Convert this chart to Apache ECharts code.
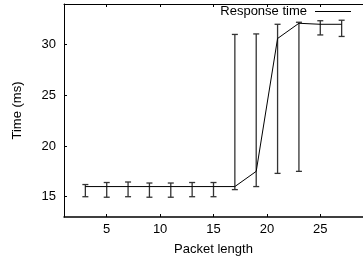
<!DOCTYPE html>
<html>
<head>
<meta charset="utf-8">
<script src="https://cdn.jsdelivr.net/npm/echarts@6/dist/echarts.min.js"></script>
<style>html,body{margin:0;padding:0;background:#fff}#c{width:363px;height:263px}</style>
</head>
<body>
<div id="c"></div>
<script>
var packetLength = [3, 5, 7, 9, 11, 13, 15, 17, 19, 21, 23, 25, 27];
var meanTime = [16.0, 16.0, 16.0, 16.0, 16.0, 16.0, 16.0, 16.0, 17.5, 30.6, 32.1, 32.0, 32.0];
var lowTime = [15.0, 14.95, 15.0, 14.95, 14.95, 15.0, 15.0, 15.7, 16.0, 17.3, 17.5, 30.95, 30.8];
var highTime = [16.2, 16.4, 16.45, 16.35, 16.35, 16.4, 16.4, 31.0, 31.05, 32.0, 32.2, 32.35, 32.4];
var xTicks = [5, 10, 15, 20, 25];
var yTicks = [15, 20, 25, 30];
var seriesName = 'Response time';

var lineData = packetLength.map(function (x, i) { return [x, meanTime[i]]; });
var errData = packetLength.map(function (x, i) { return [x, lowTime[i], highTime[i]]; });

var font = 'Liberation Sans, Arial, sans-serif';
var chart = echarts.init(document.getElementById('c'));
chart.setOption({
  animation: false,
  backgroundColor: '#fff',
  grid: { left: 64, top: 4, width: 302, height: 213, show: false },
  legend: {
    data: [{ name: seriesName, icon: 'rect' }],
    right: 12, top: 5, padding: 0,
    align: 'right',
    itemWidth: 36, itemHeight: 1,
    itemStyle: { color: '#000' },
    textStyle: { fontFamily: font, fontSize: 13, color: '#000', padding: [0, 3, 0, 0] }
  },
  xAxis: [{
    type: 'value', min: 1, max: 29, position: 'bottom',
    name: 'Packet length', nameLocation: 'middle', nameGap: 26,
    nameTextStyle: { fontFamily: font, fontSize: 13, color: '#000' },
    splitLine: { show: false },
    axisLine: { show: true, lineStyle: { color: '#000', width: 1.5 } },
    axisTick: { show: true, inside: true, length: 3, customValues: xTicks, lineStyle: { color: '#000' } },
    axisLabel: { customValues: xTicks, fontFamily: font, fontSize: 13, color: '#000', margin: 6 }
  }, {
    type: 'value', min: 1, max: 29, position: 'top',
    splitLine: { show: false },
    axisLine: { show: true, lineStyle: { color: '#000', width: 1 } },
    axisTick: { show: true, inside: true, length: 3, customValues: xTicks, lineStyle: { color: '#000' } },
    axisLabel: { show: false }
  }],
  yAxis: [{
    type: 'value', min: 13, max: 34,
    name: 'Time (ms)', nameLocation: 'middle', nameGap: 40,
    nameTextStyle: { fontFamily: font, fontSize: 13, color: '#000' },
    splitLine: { show: false },
    axisLine: { show: true, lineStyle: { color: '#000', width: 1 } },
    axisTick: { show: true, inside: true, length: 3, customValues: yTicks, lineStyle: { color: '#000' } },
    axisLabel: { customValues: yTicks, fontFamily: font, fontSize: 13, color: '#000', margin: 8 }
  }],
  series: [{
    name: seriesName,
    type: 'line',
    data: lineData,
    symbol: 'none',
    lineStyle: { color: '#000', width: 1 },
    itemStyle: { color: '#000' },
    z: 3
  }, {
    name: 'err',
    type: 'custom',
    data: errData,
    renderItem: function (params, api) {
      var x = api.value(0);
      var lo = api.coord([x, api.value(1)]);
      var hi = api.coord([x, api.value(2)]);
      var hw = 3;
      var st = { stroke: '#333', lineWidth: 1.3, fill: null };
      return {
        type: 'group',
        children: [
          { type: 'line', shape: { x1: lo[0], y1: lo[1], x2: hi[0], y2: hi[1] }, style: st },
          { type: 'line', shape: { x1: lo[0] - hw, y1: lo[1], x2: lo[0] + hw, y2: lo[1] }, style: st },
          { type: 'line', shape: { x1: hi[0] - hw, y1: hi[1], x2: hi[0] + hw, y2: hi[1] }, style: st }
        ]
      };
    },
    z: 2
  }]
});
</script>
</body>
</html>
